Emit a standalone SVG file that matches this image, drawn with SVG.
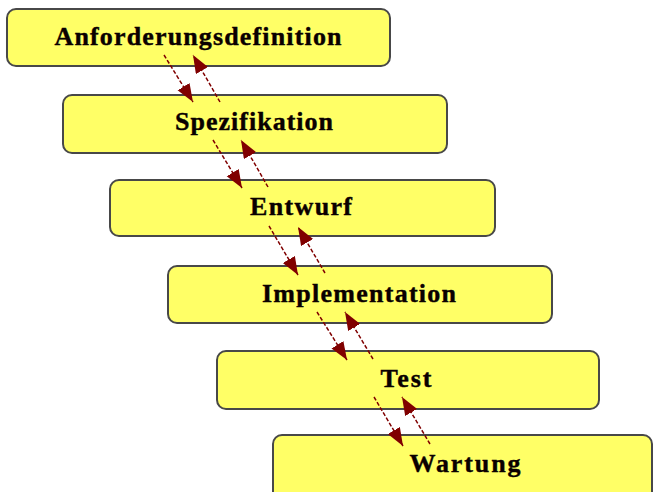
<svg xmlns="http://www.w3.org/2000/svg" width="653" height="492" viewBox="0 0 653 492">
<defs>
<style>
.box{fill:#FFFF66;stroke:#484848;stroke-width:2}
.lbl{font-family:"Liberation Serif","Times New Roman",serif;font-weight:bold;font-size:26px;fill:#0a0000;stroke:#0a0000;stroke-width:0.4;text-anchor:middle}
.arr{stroke:#800000;stroke-width:1.5;stroke-dasharray:4 2;fill:none;marker-end:url(#ah)}
</style>
<marker id="ah" markerUnits="userSpaceOnUse" markerWidth="20" markerHeight="16" refX="18" refY="7" orient="auto">
<path d="M0,0 L18,7 L0,14 Z" fill="#800000"/>
</marker>
</defs>
<rect width="653" height="492" fill="#fff"/>
<g id="n1"><rect class="box" x="7" y="9" width="383" height="57" rx="9"/><text class="lbl" x="198" y="45" textLength="287" lengthAdjust="spacing">Anforderungsdefinition</text></g>
<g id="n2"><rect class="box" x="63" y="95" width="384" height="58" rx="9"/><text class="lbl" x="254" y="130" textLength="158" lengthAdjust="spacing">Spezifikation</text></g>
<g id="n3"><rect class="box" x="110" y="180" width="385" height="56" rx="9"/><text class="lbl" x="301" y="215" textLength="102" lengthAdjust="spacing">Entwurf</text></g>
<g id="n4"><rect class="box" x="168" y="266" width="384" height="57" rx="9"/><text class="lbl" x="359" y="302" textLength="194" lengthAdjust="spacing">Implementation</text></g>
<g id="n5"><rect class="box" x="217" y="351" width="382" height="58" rx="9"/><text class="lbl" x="406" y="387" textLength="51" lengthAdjust="spacing">Test</text></g>
<g id="n6"><rect class="box" x="273" y="435" width="379" height="70" rx="9"/><text class="lbl" x="465" y="472" textLength="111" lengthAdjust="spacing">Wartung</text></g>
<g id="connectors">
<line class="arr" x1="164" y1="55" x2="193" y2="102"/>
<line class="arr" x1="220" y1="102" x2="193" y2="55"/>
<line class="arr" x1="213" y1="140" x2="242" y2="188"/>
<line class="arr" x1="268" y1="187" x2="241" y2="140"/>
<line class="arr" x1="269" y1="226" x2="298" y2="275"/>
<line class="arr" x1="325" y1="273" x2="298" y2="227"/>
<line class="arr" x1="317" y1="312" x2="347" y2="360"/>
<line class="arr" x1="373" y1="359" x2="345" y2="312"/>
<line class="arr" x1="374" y1="397" x2="403" y2="446"/>
<line class="arr" x1="430" y1="444" x2="402" y2="397"/>
</g>
</svg>
